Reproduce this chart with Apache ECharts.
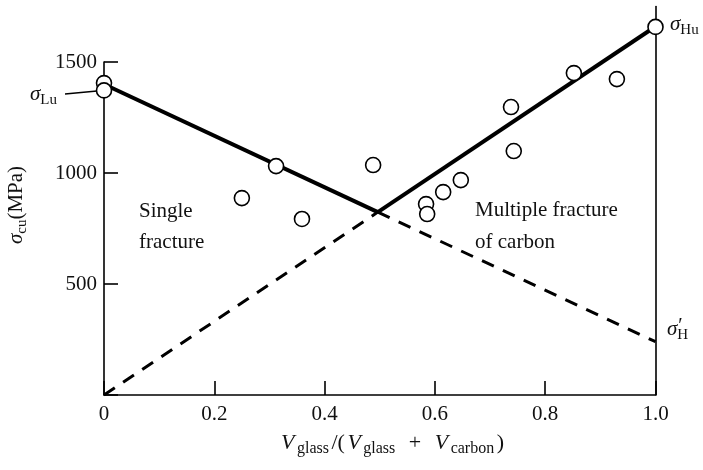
<!DOCTYPE html>
<html>
<head>
<meta charset="utf-8">
<script src="https://cdn.jsdelivr.net/npm/echarts@6/dist/echarts.min.js"></script>
<style>html,body{margin:0;padding:0;background:#fff;}#c{width:703px;height:470px;}</style>
</head>
<body>
<div id="c"></div>
<script>
// ---- data ----
const pointsX = [0, 0, 0.25, 0.312, 0.359, 0.488, 0.584, 0.586, 0.615, 0.647, 0.738, 0.743, 0.852, 0.930, 1.0];
const pointsY = [1405, 1372, 887, 1031, 793, 1036, 860, 815, 914, 968, 1297, 1099, 1450, 1423, 1658];
const singleSolidX = [0, 0.4965];
const singleSolidY = [1400, 824];
const singleDashX = [0.4965, 1.0];
const singleDashY = [824, 240];
const multiDashX = [0, 0.4965];
const multiDashY = [0, 824];
const multiSolidX = [0.4965, 1.0];
const multiSolidY = [824, 1660];
const xTickLabels = ['0', '0.2', '0.4', '0.6', '0.8', '1.0'];
const yTickLabels = ['', '500', '1000', '1500'];

const FONT = '"Liberation Serif", "DejaVu Serif", serif';
const INK = '#111';
const zip = (a, b) => a.map((v, i) => [v, b[i]]);

const mctx = document.createElement('canvas').getContext('2d');
function tw(t, size, it) {
  mctx.font = (it ? 'italic ' : '') + size + 'px ' + FONT;
  return mctx.measureText(t).width;
}
// build a math-like text group: parts [{t, it, sub, sup, noAdv, size, dx, dy}]
function mathGroup(parts, x, y, o) {
  o = o || {};
  const main = o.main || 21, subS = o.subS || 15, subDy = o.subDy != null ? o.subDy : 6, supDy = o.supDy != null ? o.supDy : -8, sp = o.spacing || 0;
  const sizeOf = p => p.size || ((p.sub || p.sup) ? subS : main);
  let widths = parts.map(p => (p.noAdv ? 0 : tw(p.t, sizeOf(p), p.it) + sp));
  const total = widths.reduce((a, b) => a + b, 0);
  let cx = o.align === 'center' ? -total / 2 : (o.align === 'right' ? -total : 0);
  const children = parts.map((p, i) => {
    const size = sizeOf(p);
    const el = {
      type: 'text', x: cx + (p.dx || 0), y: (p.sub ? subDy : (p.sup ? supDy : 0)) + (p.dy || 0),
      style: { text: p.t, font: (p.it ? 'italic ' : '') + size + 'px ' + FONT, fill: INK, textAlign: 'left', textVerticalAlign: 'middle' }
    };
    cx += widths[i];
    return el;
  });
  return { type: 'group', x: x, y: y, rotation: o.rotation || 0, children: children };
}
function plainText(t, x, y) {
  return { type: 'text', x: x, y: y, style: { text: t, font: '21px ' + FONT, fill: INK, textAlign: 'left', textVerticalAlign: 'middle' } };
}

const chart = echarts.init(document.getElementById('c'), null, { renderer: 'canvas' });
const axisLine = { show: true, onZero: false, lineStyle: { color: '#000', width: 1.6 } };
const option = {
  backgroundColor: '#fff',
  animation: false,
  grid: [
    { left: 104, right: 47.5, top: 6.5, bottom: 75 },
    { left: 104, right: 47.5, top: 62, bottom: 75 }
  ],
  xAxis: [
    {
      gridIndex: 0, type: 'value', min: 0, max: 1, interval: 0.2,
      axisLine: axisLine,
      axisTick: { show: true, inside: true, length: 14, lineStyle: { color: '#000', width: 1.6 } },
      axisLabel: { margin: 9, fontSize: 21, fontFamily: FONT, color: INK, formatter: v => xTickLabels[Math.round(v / 0.2)] },
      splitLine: { show: false }
    },
    { gridIndex: 1, type: 'value', min: 0, max: 1, show: false }
  ],
  yAxis: [
    {
      gridIndex: 0, type: 'value', min: 0, max: 1750, position: 'right',
      axisLine: axisLine, axisTick: { show: false }, axisLabel: { show: false }, splitLine: { show: false }
    },
    {
      gridIndex: 1, type: 'value', min: 0, max: 1500, interval: 500, position: 'left',
      axisLine: axisLine,
      axisTick: { show: true, inside: true, length: 14, lineStyle: { color: '#000', width: 1.6 } },
      axisLabel: { margin: 7, fontSize: 21, fontFamily: FONT, color: INK, formatter: v => yTickLabels[Math.round(v / 500)] },
      splitLine: { show: false }
    }
  ],
  series: [
    { type: 'line', xAxisIndex: 0, yAxisIndex: 0, data: zip(singleSolidX, singleSolidY), showSymbol: false, lineStyle: { color: '#000', width: 4 }, z: 3 },
    { type: 'line', xAxisIndex: 0, yAxisIndex: 0, data: zip(singleDashX, singleDashY), showSymbol: false, lineStyle: { color: '#000', width: 3, type: [13, 10] }, z: 3 },
    { type: 'line', xAxisIndex: 0, yAxisIndex: 0, data: zip(multiDashX, multiDashY), showSymbol: false, lineStyle: { color: '#000', width: 3, type: [13, 10] }, z: 3 },
    { type: 'line', xAxisIndex: 0, yAxisIndex: 0, data: zip(multiSolidX, multiSolidY), showSymbol: false, lineStyle: { color: '#000', width: 4 }, z: 3 },
    {
      type: 'scatter', xAxisIndex: 0, yAxisIndex: 0, data: zip(pointsX, pointsY),
      symbol: 'circle', symbolSize: 15,
      itemStyle: { color: '#fff', borderColor: '#000', borderWidth: 1.6, opacity: 1 }, z: 5
    }
  ],
  graphic: [
    plainText('Single', 139, 211),
    plainText('fracture', 139, 242),
    plainText('Multiple fracture', 475, 210),
    plainText('of carbon', 475, 242),
    mathGroup([{ t: 'σ', it: true }, { t: 'Lu', sub: true }], 30, 94.5, {}),
    mathGroup([{ t: 'σ', it: true }, { t: 'Hu', sub: true }], 670, 24.5, {}),
    mathGroup([{ t: 'σ', it: true }, { t: '′', sup: true, noAdv: true, size: 20, dx: 1 }, { t: 'H', sub: true }], 667, 329.5, { supDy: -3 }),
    { type: 'line', shape: { x1: 65, y1: 94, x2: 97, y2: 91 }, style: { stroke: '#000', lineWidth: 1.6 } },
    mathGroup([{ t: 'σ', it: true }, { t: 'cu', sub: true }, { t: '(MPa)' }], 16, 205, { align: 'center', rotation: Math.PI / 2 }),
    mathGroup([
      { t: 'V', it: true }, { t: 'glass', sub: true }, { t: '/(' },
      { t: 'V', it: true }, { t: 'glass', sub: true }, { t: '  +  ' },
      { t: 'V', it: true }, { t: 'carbon', sub: true }, { t: ')' }
    ], 281, 443, { main: 22, subS: 16, spacing: 2.5 })
  ]
};
chart.setOption(option);
</script>
</body>
</html>
